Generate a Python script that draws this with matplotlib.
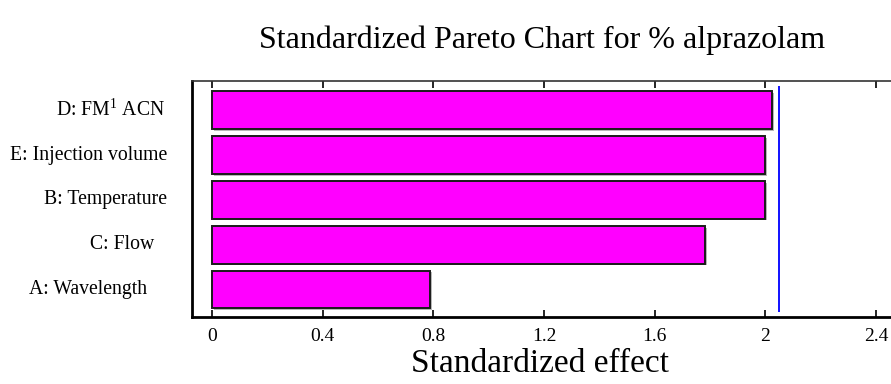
import matplotlib
matplotlib.use("Agg")
import matplotlib.pyplot as plt
import matplotlib.patheffects as pe
import matplotlib.transforms as mtransforms

# effects, bottom to top
factors = ["A: Wavelength", "C: Flow", "B: Temperature", "E: Injection volume", "D: FM$^{1}$ ACN"]
effects = [0.788, 1.783, 2.0, 2.0, 2.025]
t_crit = 2.048
xticks = [0, 0.4, 0.8, 1.2, 1.6, 2.0, 2.4]
xtick_labels = ["0", "0.4", "0.8", "1.2", "1.6", "2", "2.4"]

plt.rcParams["font.family"] = ["Liberation Serif", "DejaVu Serif"]
plt.rcParams["mathtext.fontset"] = "custom"
plt.rcParams["mathtext.rm"] = "Liberation Serif"

fig = plt.figure(figsize=(8.91, 3.84), dpi=100)
ax = fig.add_axes([192 / 891, 67 / 384, 699 / 891, 236 / 384])

ypos = list(range(len(factors)))
bars = ax.barh(ypos, effects, height=0.84, color="#ff00ff", edgecolor="#1a1a1a", linewidth=1.4)
for b in bars:
    b.set_path_effects([pe.SimplePatchShadow(offset=(1.2, -1.2), shadow_rgbFace="0.6", alpha=0.7), pe.Normal()])

ax.vlines(t_crit, -0.5, 4.53, color="#1010ff", linewidth=1.4)

ax.set_xlim(-0.072, 2.454)
ax.set_ylim(-0.61, 4.65)

ax.set_xticks(xticks)
ax.set_xticklabels(xtick_labels, fontsize=14)
ax.tick_params(axis="x", direction="in", length=5, width=1.2, top=True, pad=8)
ax.set_yticks([])

for s in ["left", "bottom"]:
    ax.spines[s].set_linewidth(2)
ax.spines["top"].set_linewidth(1.2)
ax.spines["top"].set_color("#333333")
ax.spines["right"].set_visible(False)

# category labels, placed by their right edge in pixels
label_tr = mtransforms.blended_transform_factory(fig.transFigure, ax.transData)
label_right = [147, 154, 167, 167, 165]
for y, name, xr in zip(ypos, factors, label_right):
    ax.text(xr / 891, y, name, transform=label_tr, ha="right", va="center", fontsize=14.2)

fig.text(542 / 891, 1 - 40 / 384, "Standardized Pareto Chart for % alprazolam", ha="center", va="center", fontsize=23)
fig.text(540 / 891, 1 - 364 / 384, "Standardized effect", ha="center", va="center", fontsize=24)

fig.savefig("out.png", dpi=100)
